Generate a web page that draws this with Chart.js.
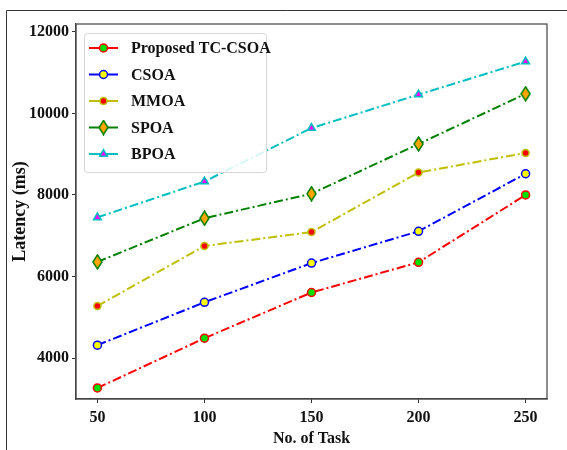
<!DOCTYPE html>
<html lang="en">
<head>
    <meta charset="UTF-8">
    <title>Latency vs No. of Task</title>
    <script src="https://cdn.jsdelivr.net/npm/chart.js@4.4.0/dist/chart.umd.min.js"></script>
    <style>
        html, body { margin: 0; padding: 0; background: #fff; }
        #wrap { position: relative; width: 567px; height: 450px; }
    </style>
</head>
<body>
    <div id="wrap">
        <canvas id="latencyChart" width="567" height="450"></canvas>
    </div>

    <script>
        // chart data
        var tasks = [50, 100, 150, 200, 250];
        var proposed = [3270, 4490, 5610, 6350, 8000];
        var csoa = [4320, 5370, 6330, 7110, 8520];
        var mmoa = [5280, 6750, 7090, 8550, 9030];
        var spoa = [6360, 7430, 8030, 9250, 10480];
        var bpoa = [7450, 8330, 9640, 10460, 11270];
        var seriesNames = ['Proposed TC-CSOA', 'CSOA', 'MMOA', 'SPOA', 'BPOA'];
        var xTicks = [50, 100, 150, 200, 250];
        var yTicks = [4000, 6000, 8000, 10000, 12000];

        var FONT = "'Liberation Serif', 'Times New Roman', serif";
        var dashDot = [9, 3, 2, 3];

        function toPoints(values) {
            return tasks.map(function (t, i) { return { x: t, y: values[i] }; });
        }

        // thin diamond marker (matplotlib 'd'), drawn once on a small canvas
        function thinDiamond(fill, edge) {
            var c = document.createElement('canvas');
            c.width = 11; c.height = 16;
            var g = c.getContext('2d');
            g.beginPath();
            g.moveTo(5.5, 1);
            g.lineTo(10, 8);
            g.lineTo(5.5, 15);
            g.lineTo(1, 8);
            g.closePath();
            g.fillStyle = fill;
            g.fill();
            g.strokeStyle = edge;
            g.lineWidth = 1.5;
            g.stroke();
            return c;
        }

        function makeSet(label, values, lineColor, marker, fill, edge, radius) {
            return {
                label: label,
                data: toPoints(values),
                borderColor: lineColor,
                borderWidth: 2,
                borderDash: dashDot,
                pointStyle: marker,
                pointRadius: radius,
                pointBackgroundColor: fill,
                pointBorderColor: edge,
                pointBorderWidth: 1.5,
                fill: false,
                tension: 0
            };
        }

        var datasets = [
            makeSet(seriesNames[0], proposed, '#ff0000', 'circle', '#00e000', '#ff0000', 4),
            makeSet(seriesNames[1], csoa, '#0000ff', 'circle', '#ffff00', '#0000ff', 4),
            makeSet(seriesNames[2], mmoa, '#bfbf00', 'circle', '#ff0000', '#bfbf00', 3.5),
            makeSet(seriesNames[3], spoa, '#008000', thinDiamond('#ffa500', '#008000'), '#ffa500', '#008000', 6),
            makeSet(seriesNames[4], bpoa, '#00bfbf', 'triangle', '#ff00ff', '#00bfbf', 4.5)
        ];

        // frame around the figure and box around the plot
        var framePlugin = {
            id: 'frame',
            beforeDraw: function (chart) {
                var ctx = chart.ctx;
                ctx.save();
                ctx.fillStyle = '#fff';
                ctx.fillRect(0, 0, chart.width, chart.height);
                ctx.strokeStyle = '#333';
                ctx.lineWidth = 1;
                ctx.beginPath();
                ctx.moveTo(6.5, chart.height);
                ctx.lineTo(6.5, 10.5);
                ctx.lineTo(chart.width, 10.5);
                ctx.stroke();
                ctx.restore();
            },
            afterDatasetsDraw: function (chart) {
                var a = chart.chartArea;
                var ctx = chart.ctx;
                ctx.save();
                ctx.strokeStyle = '#444';
                ctx.lineWidth = 1.2;
                ctx.strokeRect(a.left, a.top, a.right - a.left, a.bottom - a.top);
                ctx.restore();
            }
        };

        // legend drawn inside the plot, line sample + marker like matplotlib
        var legendPlugin = {
            id: 'innerLegend',
            afterDraw: function (chart) {
                var ctx = chart.ctx;
                var x0 = 84, y0 = 33, w = 182, h = 139;
                ctx.save();
                ctx.fillStyle = 'rgba(255,255,255,0.85)';
                ctx.strokeStyle = '#d6d6d6';
                ctx.lineWidth = 1;
                ctx.beginPath();
                ctx.roundRect(x0 + 0.5, y0 + 0.5, w, h, 3);
                ctx.fill();
                ctx.stroke();
                ctx.font = 'bold 16px ' + FONT;
                ctx.textBaseline = 'middle';
                chart.data.datasets.forEach(function (ds, i) {
                    var cy = y0 + 15 + i * 26.5;
                    ctx.save();
                    ctx.strokeStyle = ds.borderColor;
                    ctx.lineWidth = 2;
                    ctx.setLineDash([]);
                    ctx.beginPath();
                    ctx.moveTo(89, cy);
                    ctx.lineTo(118, cy);
                    ctx.stroke();
                    ctx.fillStyle = ds.pointBackgroundColor;
                    ctx.strokeStyle = ds.pointBorderColor;
                    ctx.lineWidth = ds.pointBorderWidth;
                    Chart.helpers.drawPoint(ctx, {
                        pointStyle: ds.pointStyle,
                        radius: ds.pointRadius,
                        borderWidth: ds.pointBorderWidth,
                        rotation: 0
                    }, 103.5, cy);
                    ctx.restore();
                    ctx.fillStyle = '#111';
                    ctx.fillText(ds.label, 131, cy + 1);
                });
                ctx.restore();
            }
        };

        var ctx = document.getElementById('latencyChart').getContext('2d');
        var latencyChart = new Chart(ctx, {
            type: 'line',
            data: { datasets: datasets },
            options: {
                responsive: false,
                animation: false,
                layout: { padding: { left: 0, right: 20, top: 24, bottom: 0 } },
                plugins: {
                    legend: { display: false },
                    tooltip: { enabled: false }
                },
                scales: {
                    x: {
                        type: 'linear',
                        min: 40,
                        max: 260,
                        afterBuildTicks: function (scale) {
                            scale.ticks = xTicks.map(function (v) { return { value: v }; });
                        },
                        afterFit: function (scale) { scale.height = 51; },
                        grid: { drawOnChartArea: false, drawTicks: true, tickLength: 4, color: '#333' },
                        border: { display: true, color: '#444', width: 1.2 },
                        ticks: {
                            color: '#111',
                            padding: 5,
                            maxRotation: 0,
                            font: { family: FONT, size: 16, weight: 'bold' }
                        },
                        title: {
                            display: true,
                            text: 'No. of Task',
                            color: '#111',
                            padding: { top: 0, bottom: 2 },
                            font: { family: FONT, size: 16, weight: 'bold' }
                        }
                    },
                    y: {
                        type: 'linear',
                        min: 3000,
                        max: 12190,
                        afterBuildTicks: function (scale) {
                            scale.ticks = yTicks.map(function (v) { return { value: v }; });
                        },
                        afterFit: function (scale) { scale.width = 76; },
                        grid: { drawOnChartArea: false, drawTicks: true, tickLength: 4, color: '#333' },
                        border: { display: true, color: '#444', width: 1.2 },
                        ticks: {
                            color: '#111',
                            padding: 3,
                            font: { family: FONT, size: 16, weight: 'bold' },
                            callback: function (v) { return String(v); }
                        },
                        title: {
                            display: true,
                            text: 'Latency (ms)',
                            color: '#111',
                            padding: { top: 10, bottom: 0 },
                            font: { family: FONT, size: 18, weight: 'bold' }
                        }
                    }
                }
            },
            plugins: [framePlugin, legendPlugin]
        });
    </script>
</body>
</html>
